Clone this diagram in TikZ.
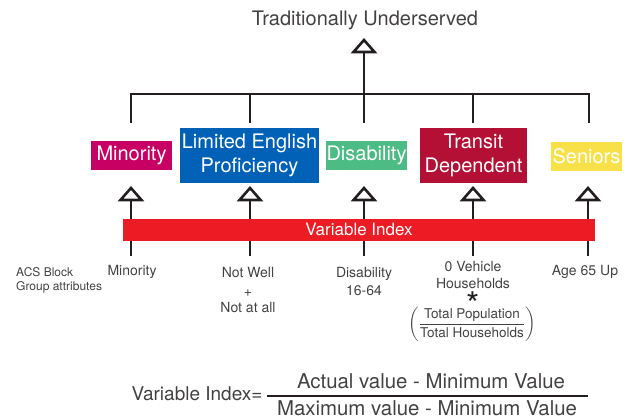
\documentclass[tikz,border=0pt]{standalone}
\usepackage{amsmath}
\usepackage{fontspec}
\setmainfont{TeX Gyre Heros}
\usepackage{tikz}
\definecolor{minred}{RGB}{200,0,100}
\definecolor{lepblue}{RGB}{0,97,182}
\definecolor{disgreen}{RGB}{76,187,132}
\definecolor{transred}{RGB}{180,16,54}
\definecolor{senyellow}{RGB}{248,224,72}
\definecolor{barred}{RGB}{237,28,36}
\definecolor{ink}{RGB}{35,31,32}
\newcommand{\fs}[1]{\fontsize{#1}{1.15\dimexpr#1pt}\selectfont}
\tikzset{
  wire/.style={draw=ink,line width=2.6pt},
  cat/.style={text=white,inner sep=0pt,align=center,font=\fs{20}},
  attr/.style={text=ink!85,align=center,font=\fs{14}},
  % open triangle head, tip at the pic origin
  tipup/.pic={\draw[wire,fill=white,line join=miter] (0,0) -- (-10.5,12) -- (10.5,12) -- cycle;},
}

\begin{document}
\begin{tikzpicture}[x=1pt,y=-1pt]
  \useasboundingbox (0,0) rectangle (626,420);
  % top goal
  \node[font=\fs{20},text=ink!85] (tu) at (365,20) {Traditionally Underserved};
  \coordinate (hub) at (364,94);
  \coordinate (t0) at (364,40);
  % categories
  \node[cat,fill=minred,minimum width=81,minimum height=29] (min) at (131.5,155) {Minority};
  \node[cat,fill=lepblue,minimum width=139,minimum height=55] (lep) at (249.5,155.5) {Limited English\\[1pt]Proficiency};
  \node[cat,fill=disgreen,minimum width=81,minimum height=29] (dis) at (366.5,155) {Disability};
  \node[cat,fill=transred,minimum width=107,minimum height=55] (tra) at (473.5,155.5) {Transit\\[1pt]Dependent};
  \node[cat,fill=senyellow,minimum width=71,minimum height=29] (sen) at (586.5,156) {Seniors};
  % links up to the goal
  \foreach \i/\x in {1/131,2/250,3/364,4/473,5/589}{
    \coordinate (c\i) at (\x,123);
  }
  \draw[wire] (c1) |- (hub) -| (c5);
  \draw[wire] (c2) -- (c2 |- hub);
  \draw[wire] (c4) -- (c4 |- hub);
  \draw[wire] (c3) -- (hub);
  \draw[wire] (hub) -- (t0);
  \pic at (t0) {tipup};
  % links from the attributes through the index
  \foreach \i/\x in {1/131,2/250,3/364,4/473,5/588}{
    \coordinate (b\i) at (\x,256);
    \coordinate (t\i) at (\x,188);
    \draw[wire] (b\i) -- (t\i);
    \pic at (t\i) {tipup};
  }
  \node[fill=barred,text=white,font=\fs{17},minimum width=472,minimum height=22,inner sep=0pt] (vix) at (359,229.5) {Variable Index};
  % ACS attributes
  \node[anchor=west,text=ink!85,font=\fs{12},align=left,inner sep=0pt] (acs) at (16,280) {ACS Block\\Group attributes};
  \node[attr] (amin) at (132,272) {Minority};
  \node[attr] (aeng) at (248,290) {Not Well\\[3pt]+\\[0pt]Not at all};
  \node[attr] (adis) at (364,281.5) {Disability\\[2pt]16-64};
  \node[attr] (aveh) at (473,275) {0 Vehicle\\Households};
  \node[text=ink,font=\fs{34},inner sep=0pt,anchor=base] (star) at (473,316) {\smash{*}};
  \node[text=ink!85,font=\fs{13.5},inner sep=0pt] (ratio) at (472,324.5) {$\left(\dfrac{\text{Total Population}}{\text{Total Households}}\right)$};
  \node[attr] (asen) at (585,272) {Age 65 Up};
  % index formula
  \node[text=ink!85,font=\fs{19}] (vif) at (197,394) {Variable Index=};
  \node[text=ink!85,font=\fs{20.4}] (num) at (431,381) {Actual value - Minimum Value};
  \node[text=ink!85,font=\fs{20.4}] (den) at (427,408.5) {Maximum value - Minimum Value};
  \coordinate (fl) at (267,396);
  \coordinate (fr) at (588,396);
  \draw[wire] (fl) -- (fr);
\end{tikzpicture}
\end{document}
